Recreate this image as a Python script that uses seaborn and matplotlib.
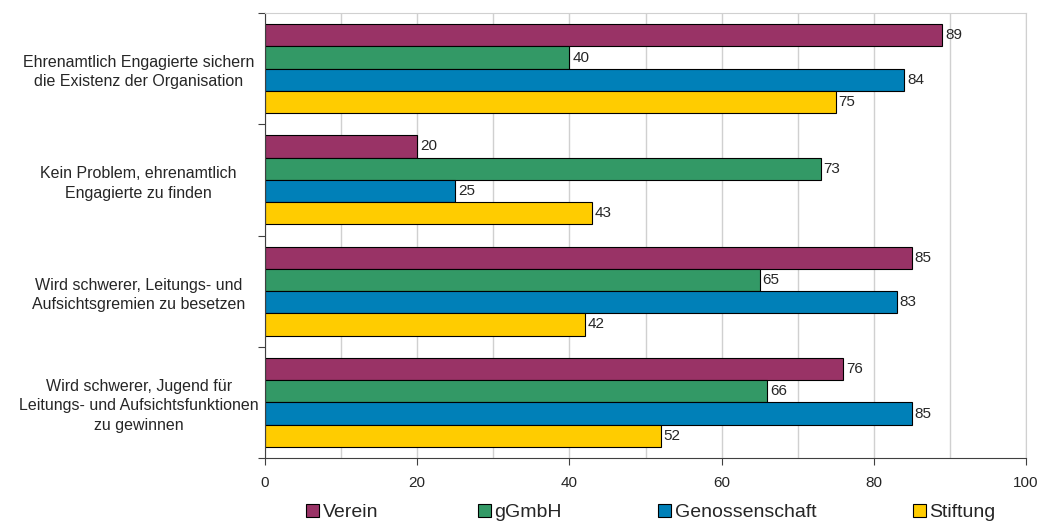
import matplotlib
matplotlib.use("Agg")
import matplotlib.pyplot as plt
import pandas as pd
import seaborn as sns

# --- Data ---
categories = [
    "Ehrenamtlich Engagierte sichern\ndie Existenz der Organisation",
    "Kein Problem, ehrenamtlich\nEngagierte zu finden",
    "Wird schwerer, Leitungs- und\nAufsichtsgremien zu besetzen",
    "Wird schwerer, Jugend für\nLeitungs- und Aufsichtsfunktionen\nzu gewinnen",
]
verein = [89, 20, 85, 76]
ggmbh = [40, 73, 65, 66]
genossenschaft = [84, 25, 83, 85]
stiftung = [75, 43, 42, 52]

series = ["Verein", "gGmbH", "Genossenschaft", "Stiftung"]
colors = ["#993366", "#339966", "#0080B8", "#FFCC00"]

rows = []
for name, vals in zip(series, [verein, ggmbh, genossenschaft, stiftung]):
    for cat, v in zip(categories, vals):
        rows.append({"Kategorie": cat, "Rechtsform": name, "Wert": v})
df = pd.DataFrame(rows)

sns.set_style("white")
plt.rcParams["font.family"] = ["Liberation Sans", "DejaVu Sans"]

fig = plt.figure(figsize=(10.41, 5.25), dpi=100)
ax = fig.add_axes([265 / 1041, 1 - 458 / 525, (1026 - 265) / 1041, (458 - 13) / 525])

sns.barplot(
    data=df, y="Kategorie", x="Wert", hue="Rechtsform",
    hue_order=series, palette=colors, orient="h", ax=ax,
    width=0.8, edgecolor="black", linewidth=0.8, saturation=1,
    errorbar=None, legend=False,
)

for cont in ax.containers:
    ax.bar_label(cont, fmt="%d", padding=2, fontsize=11)

ax.set_xlim(0, 100)
ax.set_xticks(range(0, 101, 20))
ax.set_xticks(range(10, 100, 20), minor=True)
ax.grid(axis="x", which="both", color="#d0d0d0", linewidth=1)
ax.set_axisbelow(True)
ax.set_xlabel("")
ax.set_ylabel("")

# category ticks sit between groups, labels centered
ax.set_ylim(3.5, -0.5)
ax.set_yticks([-0.5, 0.5, 1.5, 2.5, 3.5])
ax.set_yticklabels([])
ax.set_yticks(range(4), minor=True)
ax.set_yticklabels(categories, minor=True, fontsize=11.5, ha="center", linespacing=1.35)
ax.tick_params(axis="y", which="minor", length=0, pad=91)
ax.tick_params(axis="y", which="major", length=5, direction="out", color="#404040", left=True)
ax.tick_params(axis="x", which="major", length=5, direction="out", color="#404040", bottom=True, labelsize=11, pad=8)
ax.tick_params(axis="x", which="minor", length=0)

for side in ["top", "right"]:
    ax.spines[side].set_color("#d0d0d0")
for side in ["left", "bottom"]:
    ax.spines[side].set_color("#404040")

# legend entries spaced like the original
legend_x = [306, 478, 658, 913]
for name, c, lx in zip(series, colors, legend_x):
    h = plt.Rectangle((0, 0), 1, 1, facecolor=c, edgecolor="black", linewidth=0.8)
    fig.legend(
        [h], [name], loc="center left", bbox_to_anchor=(lx / 1041, 0.024),
        frameon=False, fontsize=14, handlelength=0.65, handleheight=0.65,
        handletextpad=0.2, borderpad=0, borderaxespad=0,
    )

fig.savefig("out.png", dpi=100)
